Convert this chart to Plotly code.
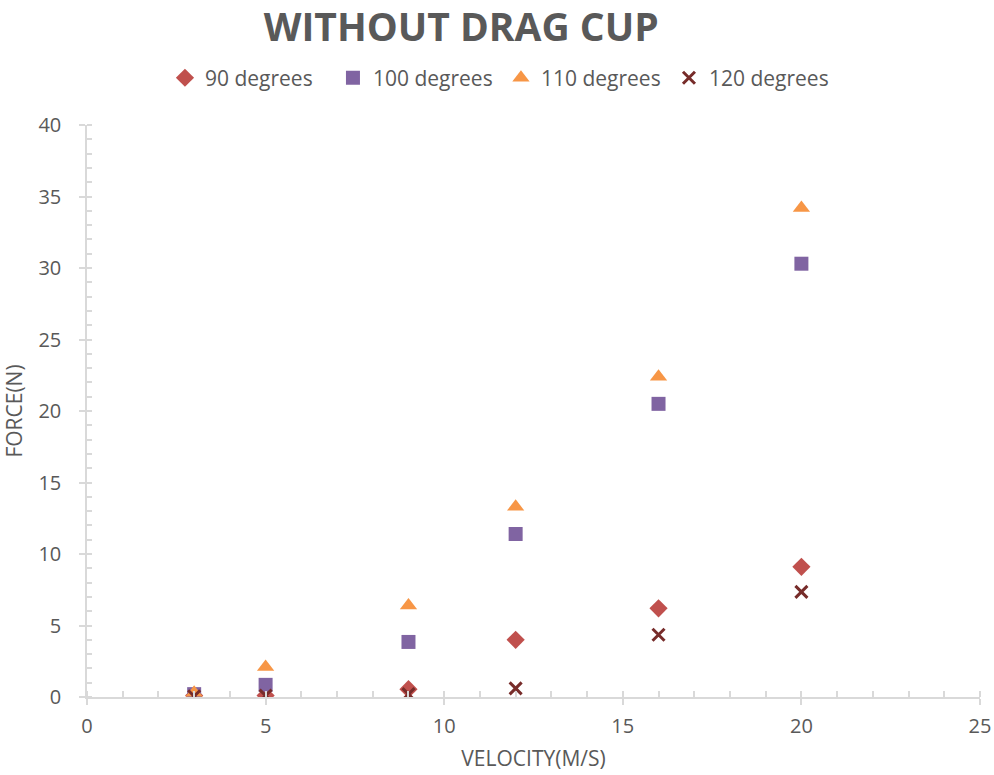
import plotly.graph_objects as go

velocity = [3, 5, 9, 12, 16, 20]
force_90 = [0.1, 0.1, 0.55, 4.0, 6.2, 9.1]
force_100 = [0.2, 0.85, 3.85, 11.4, 20.5, 30.3]
force_110 = [0.3, 2.1, 6.4, 13.3, 22.4, 34.2]
force_120 = [0.05, 0.1, 0.2, 0.6, 4.35, 7.35]

series = [
    ("90 degrees", force_90, "diamond", "#C0504D", 14),
    ("100 degrees", force_100, "square", "#8064A2", 14),
    ("110 degrees", force_110, "triangle-up", "#F79646", 15),
    ("120 degrees", force_120, "x-thin", "#772C2A", 12),
]

fig = go.Figure()
for name, ys, sym, col, sz in series:
    marker = dict(symbol=sym, color=col, size=sz)
    if sym == "x-thin":
        marker["line"] = dict(color=col, width=3)
    else:
        marker["line"] = dict(width=0)
    fig.add_trace(go.Scatter(x=velocity, y=ys, mode="markers", name=name, marker=marker))

txt = "#595959"
axcol = "#D9D9D9"
fig.update_layout(
    width=994, height=775,
    paper_bgcolor="white", plot_bgcolor="white",
    margin=dict(l=87, r=14, t=125, b=78, autoexpand=False),
    font=dict(family="Open Sans, sans-serif", color=txt, size=20),
    title=dict(text="<b>WITHOUT DRAG CUP</b>", x=0.464, xanchor="center", y=0.965, yanchor="middle",
               font=dict(size=39, color=txt, family="Open Sans, sans-serif")),
    legend=dict(orientation="h", x=0.0873, xanchor="left", y=1.082, yanchor="middle",
                font=dict(size=21, color=txt), itemwidth=30, traceorder="normal",
                entrywidth=123, entrywidthmode="pixels"),
    showlegend=True,
)
fig.update_xaxes(
    range=[0, 25], tick0=0, dtick=5, showgrid=False, zeroline=False,
    showline=True, linecolor=axcol, linewidth=1.5,
    ticks="outside", ticklen=6, tickcolor=axcol, tickwidth=1.5,
    minor=dict(dtick=1, ticks="inside", ticklen=6, tickcolor=axcol, tickwidth=1.5, showgrid=False),
    tickfont=dict(size=20, color=txt), ticklabelstandoff=4,
    title=dict(text="VELOCITY(M/S)", font=dict(size=21, color=txt), standoff=14),
)
fig.update_yaxes(
    range=[0, 40], tick0=0, dtick=5, showgrid=False, zeroline=False,
    showline=True, linecolor=axcol, linewidth=1.5,
    ticks="outside", ticklen=6, tickcolor=axcol, tickwidth=1.5,
    minor=dict(dtick=1, ticks="inside", ticklen=5, tickcolor=axcol, tickwidth=1.5, showgrid=False),
    tickfont=dict(size=20, color=txt), ticklabelstandoff=14,
    title=dict(text="FORCE(N)", font=dict(size=21, color=txt), standoff=10),
)
fig.write_html("out.html", config={"displayModeBar": False},
               post_script="document.body.style.margin='0';document.body.style.overflow='hidden';")
